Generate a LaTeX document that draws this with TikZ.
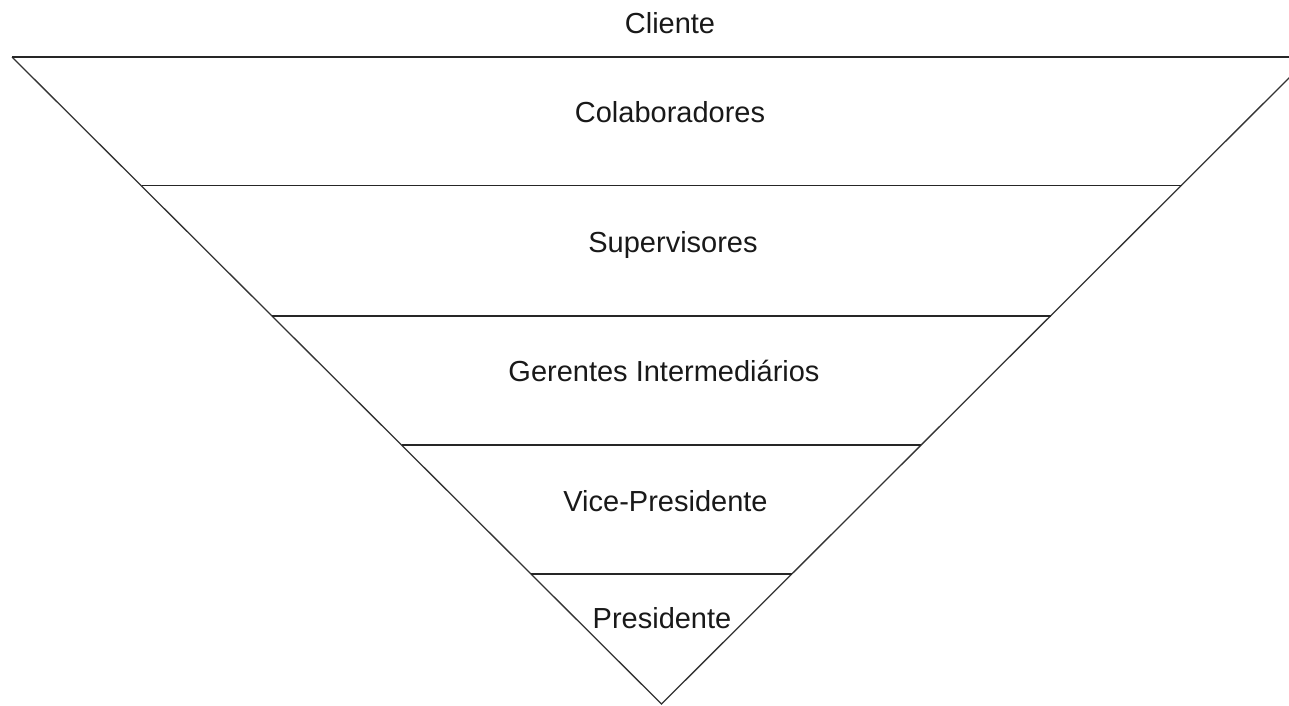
\documentclass[tikz,border=0pt]{standalone}
\usepackage{fontspec}
\setmainfont{Liberation Sans}
\begin{document}
\begin{tikzpicture}[x=1pt,y=-1pt,
  lvl/.style={draw=black!85, line width=1.5pt},
  edge/.style={draw=black!80, line width=1.3pt},
  lbl/.style={anchor=base, inner sep=0pt, font=\fontsize{29}{34}\selectfont, text=black!90}]
\useasboundingbox (0,0) rectangle (1289,705);
\clip (0,0) rectangle (1289,705);
\fill[white] (0,0) rectangle (1289,705);
% corners
\coordinate (TL) at (12,57);
\coordinate (TR) at (1310,57);
\coordinate (A) at (661.5,704);
\coordinate (L1) at (141.5,185.5); \coordinate (R1) at (1181.5,185.5);
\coordinate (L2) at (272,316);     \coordinate (R2) at (1050.5,316);
\coordinate (L3) at (401.5,445);   \coordinate (R3) at (921,445);
\coordinate (L4) at (531,574);     \coordinate (R4) at (792,574);
% outline
\draw[edge] (TL) -- (A) -- (TR);
\draw[lvl] (TL) -- (TR);
\draw[lvl] (L1) -- (R1);
\draw[lvl] (L2) -- (R2);
\draw[lvl] (L3) -- (R3);
\draw[lvl] (L4) -- (R4);
% labels
\node[lbl] (cli) at (670,33) {Cliente};
\node[lbl] (col) at (670,122) {Colaboradores};
\node[lbl] (sup) at (673,252) {Supervisores};
\node[lbl] (ger) at (664,381.5) {Gerentes Intermediários};
\node[lbl] (vic) at (665.5,511) {Vice-Presidente};
\node[lbl] (pre) at (662,628) {Presidente};
\end{tikzpicture}
\end{document}
